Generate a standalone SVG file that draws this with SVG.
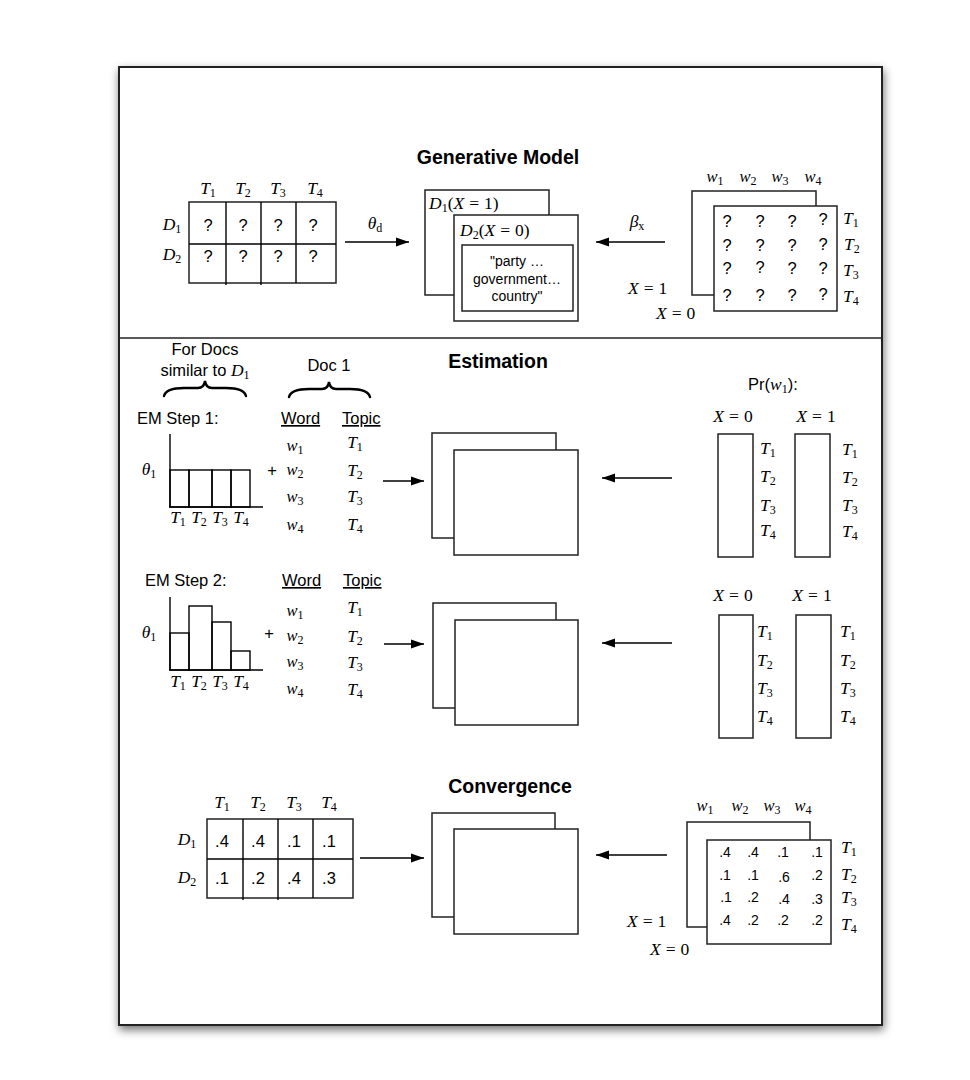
<svg xmlns="http://www.w3.org/2000/svg" width="970" height="1080" viewBox="0 0 970 1080">
<defs>
<filter id="sh" x="-10%" y="-10%" width="120%" height="120%">
<feDropShadow dx="1" dy="4" stdDeviation="5" flood-color="#000" flood-opacity="0.55"/>
</filter>
<marker id="ah" markerUnits="userSpaceOnUse" markerWidth="14" markerHeight="10" refX="13" refY="5" orient="auto">
<path d="M0,0.5 L13,5 L0,9.5 Z" fill="#000"/>
</marker>
<style>
.ln{stroke:#000;stroke-width:1.4;fill:none}
.bx{fill:#fff;stroke:#222;stroke-width:1.5}
.ar{stroke:#000;stroke-width:1.4;fill:none;marker-end:url(#ah)}
.m{font-family:"Liberation Serif","Times New Roman",serif;font-style:italic;font-size:17.5px;fill:#000}
.w{font-size:16.5px}
.u{font-style:normal}
.sb{font-size:12px;font-style:normal}
.s{font-family:"Liberation Sans",Arial,sans-serif;font-size:16.5px;fill:#000}
.sm{font-family:"Liberation Sans",Arial,sans-serif;font-size:14px;fill:#000}
.t{font-family:"Liberation Sans",Arial,sans-serif;font-size:19.5px;font-weight:bold;fill:#000}
.c{text-anchor:middle}
.br{stroke:#000;stroke-width:2.4;fill:none;stroke-linecap:round}
</style>
</defs>
<rect width="970" height="1080" fill="#fff"/>
<g id="frame">
<rect x="119" y="67" width="763" height="958" fill="#fff" stroke="#222" stroke-width="2" filter="url(#sh)"/>
<line x1="119" y1="338" x2="882" y2="338" stroke="#222" stroke-width="1.5"/>
</g>

<g id="connectors">
<line class="ar" x1="345" y1="242" x2="409" y2="242"/>
<line class="ar" x1="665" y1="242" x2="596" y2="242"/>
<line class="ar" x1="383" y1="481" x2="424" y2="481"/>
<line class="ar" x1="672" y1="478" x2="602" y2="478"/>
<line class="ar" x1="384" y1="644" x2="424" y2="644"/>
<line class="ar" x1="672" y1="643" x2="602" y2="643"/>
<line class="ar" x1="360" y1="858" x2="424" y2="858"/>
<line class="ar" x1="667" y1="855" x2="596" y2="855"/>
<text class="m c" x="375" y="229">θ<tspan class="sb" font-style="italic" dy="3">d</tspan></text>
<text class="m c" x="637" y="227">β<tspan class="sb" font-style="italic" dy="3">x</tspan></text>
</g>

<g id="gen-title"><text class="t c" x="498" y="164">Generative Model</text></g>

<g id="gen-theta-table">
<rect class="bx" x="189" y="202" width="147" height="81"/>
<line class="ln" x1="189" y1="244" x2="336" y2="244"/>
<line class="ln" x1="226" y1="202" x2="226" y2="285"/>
<line class="ln" x1="261" y1="202" x2="261" y2="285"/>
<line class="ln" x1="296" y1="202" x2="296" y2="283"/>
<text class="m c" x="208" y="194">T<tspan class="sb" dy="3">1</tspan></text>
<text class="m c" x="243" y="194">T<tspan class="sb" dy="3">2</tspan></text>
<text class="m c" x="278" y="194">T<tspan class="sb" dy="3">3</tspan></text>
<text class="m c" x="315" y="194">T<tspan class="sb" dy="3">4</tspan></text>
<text class="m c" x="172" y="230">D<tspan class="sb" dy="3">1</tspan></text>
<text class="m c" x="172" y="260">D<tspan class="sb" dy="3">2</tspan></text>
<text class="s c" x="208" y="231">?</text><text class="s c" x="243" y="231">?</text><text class="s c" x="278" y="231">?</text><text class="s c" x="313" y="231">?</text>
<text class="s c" x="208" y="262">?</text><text class="s c" x="243" y="262">?</text><text class="s c" x="278" y="262">?</text><text class="s c" x="313" y="262">?</text>
</g>

<g id="gen-docs">
<rect class="bx" x="425" y="190" width="124" height="105"/>
<text class="m" x="429" y="209">D<tspan class="sb" dy="3">1</tspan><tspan class="u" dy="-3">(</tspan>X<tspan class="u" dx="5">=</tspan><tspan class="u" dx="5">1)</tspan></text>
<rect class="bx" x="454" y="215" width="124" height="106"/>
<text class="m" x="460" y="236">D<tspan class="sb" dy="3">2</tspan><tspan class="u" dy="-3">(</tspan>X<tspan class="u" dx="5">=</tspan><tspan class="u" dx="5">0)</tspan></text>
<rect class="bx" x="462" y="245" width="111" height="66"/>
<text class="sm c" x="517" y="266">"party …</text>
<text class="sm c" x="517" y="284">government…</text>
<text class="sm c" x="517" y="301">country"</text>
</g>

<g id="gen-beta">
<rect class="bx" x="692" y="191" width="124" height="104"/>
<rect class="bx" x="714" y="206" width="123" height="105"/>
<text class="m w c" x="715" y="182">w<tspan class="sb" dy="3">1</tspan></text>
<text class="m w c" x="748" y="182">w<tspan class="sb" dy="3">2</tspan></text>
<text class="m w c" x="780" y="182">w<tspan class="sb" dy="3">3</tspan></text>
<text class="m w c" x="813" y="182">w<tspan class="sb" dy="3">4</tspan></text>
<g class="s c" font-size="15">
<text x="727" y="227">?</text><text x="760" y="227">?</text><text x="792" y="227">?</text><text x="823" y="225">?</text>
<text x="727" y="251">?</text><text x="760" y="251">?</text><text x="792" y="251">?</text><text x="823" y="250">?</text>
<text x="727" y="274">?</text><text x="760" y="273">?</text><text x="792" y="274">?</text><text x="823" y="274">?</text>
<text x="727" y="301">?</text><text x="760" y="301">?</text><text x="792" y="301">?</text><text x="823" y="300">?</text>
</g>
<text class="m" x="843" y="224">T<tspan class="sb" dy="3">1</tspan></text>
<text class="m" x="844" y="250">T<tspan class="sb" dy="3">2</tspan></text>
<text class="m" x="843" y="276">T<tspan class="sb" dy="3">3</tspan></text>
<text class="m" x="843" y="302">T<tspan class="sb" dy="3">4</tspan></text>
<text class="m" x="628" y="294">X<tspan class="u" dx="5">=</tspan><tspan class="u" dx="5">1</tspan></text>
<text class="m" x="656" y="319">X<tspan class="u" dx="5">=</tspan><tspan class="u" dx="5">0</tspan></text>
</g>

<g id="est-title"><text class="t c" x="498" y="368">Estimation</text></g>

<g id="est-labels">
<text class="s c" x="205" y="355">For Docs</text>
<text class="s c" x="205" y="376">similar to <tspan class="m">D</tspan><tspan class="m sb" dy="3">1</tspan></text>
<path class="br" d="M164,396 Q166,388 184,388 L198,388 Q204,388 205,381 Q206,388 212,388 L226,388 Q244,388 246,396"/>
<text class="s c" x="329" y="371">Doc 1</text>
<path class="br" d="M289,397 Q291,389 309,389 L322,389 Q328,389 329,382 Q330,389 336,389 L350,389 Q368,389 370,397"/>
</g>

<g id="em-step1">
<text class="s" x="137" y="424">EM Step 1:</text>
<text class="s" x="281" y="424" text-decoration="underline">Word</text>
<text class="s" x="342" y="424" text-decoration="underline">Topic</text>
<line class="ln" x1="170" y1="434" x2="170" y2="507"/>
<line class="ln" x1="169" y1="507" x2="263" y2="507"/>
<rect class="ln" x="170" y="470" width="19" height="37"/>
<rect class="ln" x="189" y="470" width="23" height="37"/>
<rect class="ln" x="212" y="470" width="19" height="37"/>
<rect class="ln" x="231" y="470" width="19" height="37"/>
<text class="m c" x="149" y="475">θ<tspan class="sb" dy="3">1</tspan></text>
<text class="m c" x="178" y="523">T<tspan class="sb" dy="3">1</tspan></text>
<text class="m c" x="199" y="523">T<tspan class="sb" dy="3">2</tspan></text>
<text class="m c" x="220" y="523">T<tspan class="sb" dy="3">3</tspan></text>
<text class="m c" x="241" y="523">T<tspan class="sb" dy="3">4</tspan></text>
<text class="s c" x="272" y="476">+</text>
<text class="m w c" x="295" y="451">w<tspan class="sb" dy="3">1</tspan></text>
<text class="m w c" x="295" y="475">w<tspan class="sb" dy="3">2</tspan></text>
<text class="m w c" x="295" y="502">w<tspan class="sb" dy="3">3</tspan></text>
<text class="m w c" x="295" y="530">w<tspan class="sb" dy="3">4</tspan></text>
<text class="m c" x="355" y="448">T<tspan class="sb" dy="3">1</tspan></text>
<text class="m c" x="355" y="476">T<tspan class="sb" dy="3">2</tspan></text>
<text class="m c" x="355" y="502">T<tspan class="sb" dy="3">3</tspan></text>
<text class="m c" x="355" y="530">T<tspan class="sb" dy="3">4</tspan></text>
</g>

<g id="em1-docs">
<rect class="bx" x="432" y="433" width="124" height="105"/>
<rect class="bx" x="454" y="450" width="124" height="105"/>
</g>

<g id="em1-pr">
<text class="s c" x="773" y="390">Pr(<tspan class="m">w</tspan><tspan class="m sb" dy="3">1</tspan><tspan dy="-3">):</tspan></text>
<text class="m c" x="733" y="422">X<tspan class="u" dx="5">=</tspan><tspan class="u" dx="5">0</tspan></text>
<text class="m c" x="816" y="422">X<tspan class="u" dx="5">=</tspan><tspan class="u" dx="5">1</tspan></text>
<rect class="bx" x="718" y="434" width="35" height="123"/>
<rect class="bx" x="795" y="434" width="35" height="123"/>
<text class="m" x="760" y="454">T<tspan class="sb" dy="3">1</tspan></text>
<text class="m" x="760" y="482">T<tspan class="sb" dy="3">2</tspan></text>
<text class="m" x="760" y="511">T<tspan class="sb" dy="3">3</tspan></text>
<text class="m" x="760" y="536">T<tspan class="sb" dy="3">4</tspan></text>
<text class="m" x="842" y="455">T<tspan class="sb" dy="3">1</tspan></text>
<text class="m" x="842" y="483">T<tspan class="sb" dy="3">2</tspan></text>
<text class="m" x="842" y="511">T<tspan class="sb" dy="3">3</tspan></text>
<text class="m" x="842" y="537">T<tspan class="sb" dy="3">4</tspan></text>
</g>

<g id="em-step2">
<text class="s" x="145" y="586">EM Step 2:</text>
<text class="s" x="282" y="586" text-decoration="underline">Word</text>
<text class="s" x="343" y="586" text-decoration="underline">Topic</text>
<line class="ln" x1="170" y1="597" x2="170" y2="670"/>
<line class="ln" x1="169" y1="670" x2="263" y2="670"/>
<rect class="ln" x="170" y="633" width="19" height="37"/>
<rect class="ln" x="189" y="606" width="23" height="64"/>
<rect class="ln" x="212" y="622" width="19" height="48"/>
<rect class="ln" x="231" y="651" width="19" height="19"/>
<text class="m c" x="149" y="638">θ<tspan class="sb" dy="3">1</tspan></text>
<text class="m c" x="178" y="687">T<tspan class="sb" dy="3">1</tspan></text>
<text class="m c" x="199" y="687">T<tspan class="sb" dy="3">2</tspan></text>
<text class="m c" x="220" y="687">T<tspan class="sb" dy="3">3</tspan></text>
<text class="m c" x="241" y="687">T<tspan class="sb" dy="3">4</tspan></text>
<text class="s c" x="269" y="639">+</text>
<text class="m w c" x="295" y="616">w<tspan class="sb" dy="3">1</tspan></text>
<text class="m w c" x="295" y="641">w<tspan class="sb" dy="3">2</tspan></text>
<text class="m w c" x="295" y="667">w<tspan class="sb" dy="3">3</tspan></text>
<text class="m w c" x="295" y="694">w<tspan class="sb" dy="3">4</tspan></text>
<text class="m c" x="355" y="613">T<tspan class="sb" dy="3">1</tspan></text>
<text class="m c" x="355" y="642">T<tspan class="sb" dy="3">2</tspan></text>
<text class="m c" x="355" y="668">T<tspan class="sb" dy="3">3</tspan></text>
<text class="m c" x="355" y="695">T<tspan class="sb" dy="3">4</tspan></text>
</g>

<g id="em2-docs">
<rect class="bx" x="433" y="603" width="123" height="105"/>
<rect class="bx" x="455" y="620" width="123" height="105"/>
</g>

<g id="em2-pr">
<text class="m c" x="733" y="601">X<tspan class="u" dx="5">=</tspan><tspan class="u" dx="5">0</tspan></text>
<text class="m c" x="812" y="601">X<tspan class="u" dx="5">=</tspan><tspan class="u" dx="5">1</tspan></text>
<rect class="bx" x="719" y="615" width="34" height="123"/>
<rect class="bx" x="796" y="615" width="35" height="123"/>
<text class="m" x="757" y="637">T<tspan class="sb" dy="3">1</tspan></text>
<text class="m" x="757" y="666">T<tspan class="sb" dy="3">2</tspan></text>
<text class="m" x="757" y="694">T<tspan class="sb" dy="3">3</tspan></text>
<text class="m" x="757" y="722">T<tspan class="sb" dy="3">4</tspan></text>
<text class="m" x="840" y="637">T<tspan class="sb" dy="3">1</tspan></text>
<text class="m" x="840" y="666">T<tspan class="sb" dy="3">2</tspan></text>
<text class="m" x="840" y="694">T<tspan class="sb" dy="3">3</tspan></text>
<text class="m" x="840" y="722">T<tspan class="sb" dy="3">4</tspan></text>
</g>

<g id="conv-title"><text class="t c" x="510" y="793">Convergence</text></g>

<g id="conv-theta-table">
<rect class="bx" x="207" y="819" width="146" height="79"/>
<line class="ln" x1="207" y1="859" x2="353" y2="859"/>
<line class="ln" x1="243" y1="819" x2="243" y2="900"/>
<line class="ln" x1="278" y1="819" x2="278" y2="900"/>
<line class="ln" x1="313" y1="819" x2="313" y2="898"/>
<text class="m c" x="222" y="808">T<tspan class="sb" dy="3">1</tspan></text>
<text class="m c" x="258" y="808">T<tspan class="sb" dy="3">2</tspan></text>
<text class="m c" x="294" y="808">T<tspan class="sb" dy="3">3</tspan></text>
<text class="m c" x="329" y="808">T<tspan class="sb" dy="3">4</tspan></text>
<text class="m c" x="187" y="845">D<tspan class="sb" dy="3">1</tspan></text>
<text class="m c" x="187" y="883">D<tspan class="sb" dy="3">2</tspan></text>
<g class="s c">
<text x="222" y="847">.4</text><text x="258" y="847">.4</text><text x="294" y="847">.1</text><text x="329" y="847">.1</text>
<text x="222" y="884">.1</text><text x="258" y="884">.2</text><text x="294" y="884">.4</text><text x="329" y="884">.3</text>
</g>
</g>

<g id="conv-docs">
<rect class="bx" x="432" y="813" width="123" height="104"/>
<rect class="bx" x="454" y="829" width="124" height="105"/>
</g>

<g id="conv-beta">
<rect class="bx" x="687" y="822" width="123" height="105"/>
<rect class="bx" x="707" y="840" width="124" height="104"/>
<text class="m w c" x="705" y="811">w<tspan class="sb" dy="3">1</tspan></text>
<text class="m w c" x="740" y="811">w<tspan class="sb" dy="3">2</tspan></text>
<text class="m w c" x="772" y="811">w<tspan class="sb" dy="3">3</tspan></text>
<text class="m w c" x="803" y="811">w<tspan class="sb" dy="3">4</tspan></text>
<g class="sm c">
<text x="725" y="857">.4</text><text x="753" y="857">.4</text><text x="783" y="857">.1</text><text x="817" y="857">.1</text>
<text x="725" y="880">.1</text><text x="753" y="880">.1</text><text x="784" y="882">.6</text><text x="817" y="880">.2</text>
<text x="726" y="902">.1</text><text x="753" y="902">.2</text><text x="784" y="904">.4</text><text x="817" y="904">.3</text>
<text x="725" y="925">.4</text><text x="753" y="925">.2</text><text x="783" y="925">.2</text><text x="817" y="925">.2</text>
</g>
<text class="m" x="841" y="853">T<tspan class="sb" dy="3">1</tspan></text>
<text class="m" x="841" y="880">T<tspan class="sb" dy="3">2</tspan></text>
<text class="m" x="841" y="903">T<tspan class="sb" dy="3">3</tspan></text>
<text class="m" x="841" y="930">T<tspan class="sb" dy="3">4</tspan></text>
<text class="m" x="627" y="927">X<tspan class="u" dx="5">=</tspan><tspan class="u" dx="5">1</tspan></text>
<text class="m" x="650" y="955">X<tspan class="u" dx="5">=</tspan><tspan class="u" dx="5">0</tspan></text>
</g>
</svg>
